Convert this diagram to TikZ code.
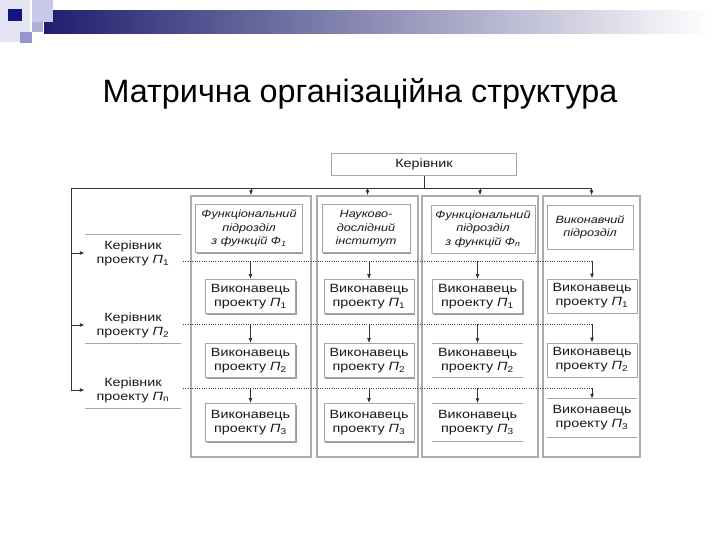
\documentclass[tikz,border=0pt]{standalone}
\usepackage{fontspec}
\setmainfont{Liberation Sans}
\newfontfamily\shirfont[FakeStretch=1.2]{Liberation Sans}
\usetikzlibrary{arrows.meta,shadows}

\definecolor{temno}{RGB}{20,20,130}
\definecolor{bandl}{RGB}{30,30,110}
\definecolor{lavA}{RGB}{200,200,232}
\definecolor{lavB}{RGB}{175,175,220}
\definecolor{lavC}{RGB}{150,150,205}
\definecolor{lavD}{RGB}{228,228,242}

\tikzset{
  celltext/.style={align=center, inner sep=1pt, text=black!90,
    font=\shirfont\fontsize{8.5}{10}\selectfont},
  cell/.style={celltext, draw=gray!70, fill=white, line width=0.7pt,
    minimum width=2.25cm, minimum height=0.85cm,
    drop shadow={shadow xshift=0.8pt, shadow yshift=-0.8pt, fill=gray!80, opacity=1}},
  hdr/.style={cell, font=\shirfont\itshape\fontsize{7.5}{9.5}\selectfont},
  colbox/.style={draw=gray!65, fill=white, line width=1pt, minimum height=6.525cm,
    drop shadow={shadow xshift=1pt, shadow yshift=-1pt, fill=gray!75, opacity=1}},
  mgr/.style={celltext, minimum width=2.4cm, minimum height=0.92cm},
  flatline/.style={draw=gray!70, line width=0.7pt},
  wire/.style={draw=black!80, line width=0.55pt},
  arr/.style={wire, -{Latex[length=3.5pt,width=2.8pt]}},
  row/.style={draw=black!75, line width=0.65pt, densely dotted}
}

\begin{document}
\begin{tikzpicture}[x=0.025cm, y=-0.025cm]
  \useasboundingbox (0,0) rectangle (720,540);

  % Смуга і квадратики вгорі
  \fill[lavD] (0,0) rectangle (30,42);
  \shade[left color=bandl, right color=white] (44,10) rectangle (710,33);
  \fill[lavA] (32,0) rectangle (53,22);
  \fill[lavB] (32,22) rectangle (43,32);
  \fill[lavC] (20,32) rectangle (32,43);
  \fill[temno] (8,9) rectangle (22,21);

  % Заголовок
  \node[font=\fontsize{23}{28}\selectfont, anchor=base] (title) at (360,102)
    {Матрична організаційна структура};

  % Керівник
  \node[cell, minimum width=4.6cm, minimum height=0.55cm] (boss) at (424,164) {Керівник};

  % Колонки
  \node[colbox, minimum width=3cm] (col1) at (251,326.5) {};
  \node[colbox, minimum width=2.525cm] (col2) at (367.5,326.5) {};
  \node[colbox, minimum width=2.9cm] (col3) at (480,326.5) {};
  \node[colbox, minimum width=2.425cm] (col4) at (591.5,326.5) {};

  % Підрозділи
  \node[hdr, minimum width=2.65cm, minimum height=1.2cm] (h1) at (249,228.5)
    {Функціональний\\підрозділ\\з функцій Ф\textsubscript{1}};
  \node[hdr, minimum width=2.2cm, minimum height=1.2cm] (h2) at (366,228.5)
    {Науково-\\дослідний\\інститут};
  \node[hdr, minimum width=2.6cm, minimum height=1.2cm] (h3) at (483,229)
    {Функціональний\\підрозділ\\з функцій Ф\textsubscript{n}};
  \node[hdr, minimum width=2.15cm, minimum height=1.1cm] (h4) at (590,227)
    {Виконавчий\\підрозділ};

  % Шина від керівника
  \coordinate (busL) at (71,188);
  \draw[wire] (boss.south) -- (boss.south |- busL);
  \draw[wire] (busL) -- (col4.north |- busL);
  \draw[arr] (col1.north |- busL) -- (col1.north);
  \draw[arr] (col2.north |- busL) -- (col2.north);
  \draw[arr] (col3.north |- busL) -- (col3.north);
  \draw[arr] (col4.north |- busL) -- (col4.north);

  % Керівники проектів
  \node[mgr] (m1) at (133,253) {Керівник\\проекту {\itshape П}\textsubscript{1}};
  \node[mgr] (m2) at (133,325) {Керівник\\проекту {\itshape П}\textsubscript{2}};
  \node[mgr] (m3) at (133,390) {Керівник\\проекту {\itshape П}\textsubscript{n}};
  \draw[flatline] (m1.north west) -- (m1.north east);
  \draw[flatline] (m2.south west) -- (m2.south east);
  \draw[flatline] (m3.south west) -- (m3.south east);

  \coordinate (corner) at (busL |- m3.west);
  \draw[wire] (busL) -- (corner);
  \draw[arr] (busL |- m1.west) -- (m1.west);
  \draw[arr] (busL |- m2.west) -- (m2.west);
  \draw[arr] (corner) -- (m3.west);

  % Виконавці
  \node[cell] (e11) at (250.5,296.5) {Виконавець\\проекту {\itshape П}\textsubscript{1}};
  \node[cell] (e21) at (369,296.5) {Виконавець\\проекту {\itshape П}\textsubscript{1}};
  \node[cell] (e31) at (477.5,296.5) {Виконавець\\проекту {\itshape П}\textsubscript{1}};
  \node[cell] (e41) at (592,296) {Виконавець\\проекту {\itshape П}\textsubscript{1}};

  \node[cell] (e12) at (250.5,360.5) {Виконавець\\проекту {\itshape П}\textsubscript{2}};
  \node[cell] (e22) at (369,360.5) {Виконавець\\проекту {\itshape П}\textsubscript{2}};
  \node[celltext, minimum width=2.25cm, minimum height=0.85cm] (e32) at (477.5,360.5)
    {Виконавець\\проекту {\itshape П}\textsubscript{2}};
  \node[cell] (e42) at (592,360) {Виконавець\\проекту {\itshape П}\textsubscript{2}};

  \node[cell, minimum height=0.95cm] (e13) at (250.5,422.5) {Виконавець\\проекту {\itshape П}\textsubscript{3}};
  \node[cell, minimum height=0.95cm] (e23) at (369,422.5) {Виконавець\\проекту {\itshape П}\textsubscript{3}};
  \node[celltext, minimum width=2.25cm, minimum height=0.95cm] (e33) at (477.5,422.5)
    {Виконавець\\проекту {\itshape П}\textsubscript{3}};
  \node[celltext, minimum width=2.25cm, minimum height=0.95cm] (e43) at (592,418)
    {Виконавець\\проекту {\itshape П}\textsubscript{3}};

  \draw[flatline] (e32.north west) -- (e32.north east) (e32.south west) -- (e32.south east);
  \draw[flatline] (e33.north west) -- (e33.north east) (e33.south west) -- (e33.south east);
  \draw[flatline] (e43.north west) -- (e43.north east) (e43.south west) -- (e43.south east);

  % Пунктирні лінії проектів
  \coordinate (r1) at (183,261);
  \coordinate (r2) at (183,324);
  \coordinate (r3) at (183,388);
  \draw[row] (r1) -- (e41.north |- r1);
  \draw[row] (r2) -- (e42.north |- r2);
  \draw[row] (r3) -- (e43.north |- r3);

  \draw[arr] (e11.north |- r1) -- (e11.north);
  \draw[arr] (e21.north |- r1) -- (e21.north);
  \draw[arr] (e31.north |- r1) -- (e31.north);
  \draw[arr] (e41.north |- r1) -- (e41.north);
  \draw[arr] (e12.north |- r2) -- (e12.north);
  \draw[arr] (e22.north |- r2) -- (e22.north);
  \draw[arr] (e32.north |- r2) -- (e32.north);
  \draw[arr] (e42.north |- r2) -- (e42.north);
  \draw[arr] (e13.north |- r3) -- (e13.north);
  \draw[arr] (e23.north |- r3) -- (e23.north);
  \draw[arr] (e33.north |- r3) -- (e33.north);
  \draw[arr] (e43.north |- r3) -- (e43.north);
\end{tikzpicture}
\end{document}
